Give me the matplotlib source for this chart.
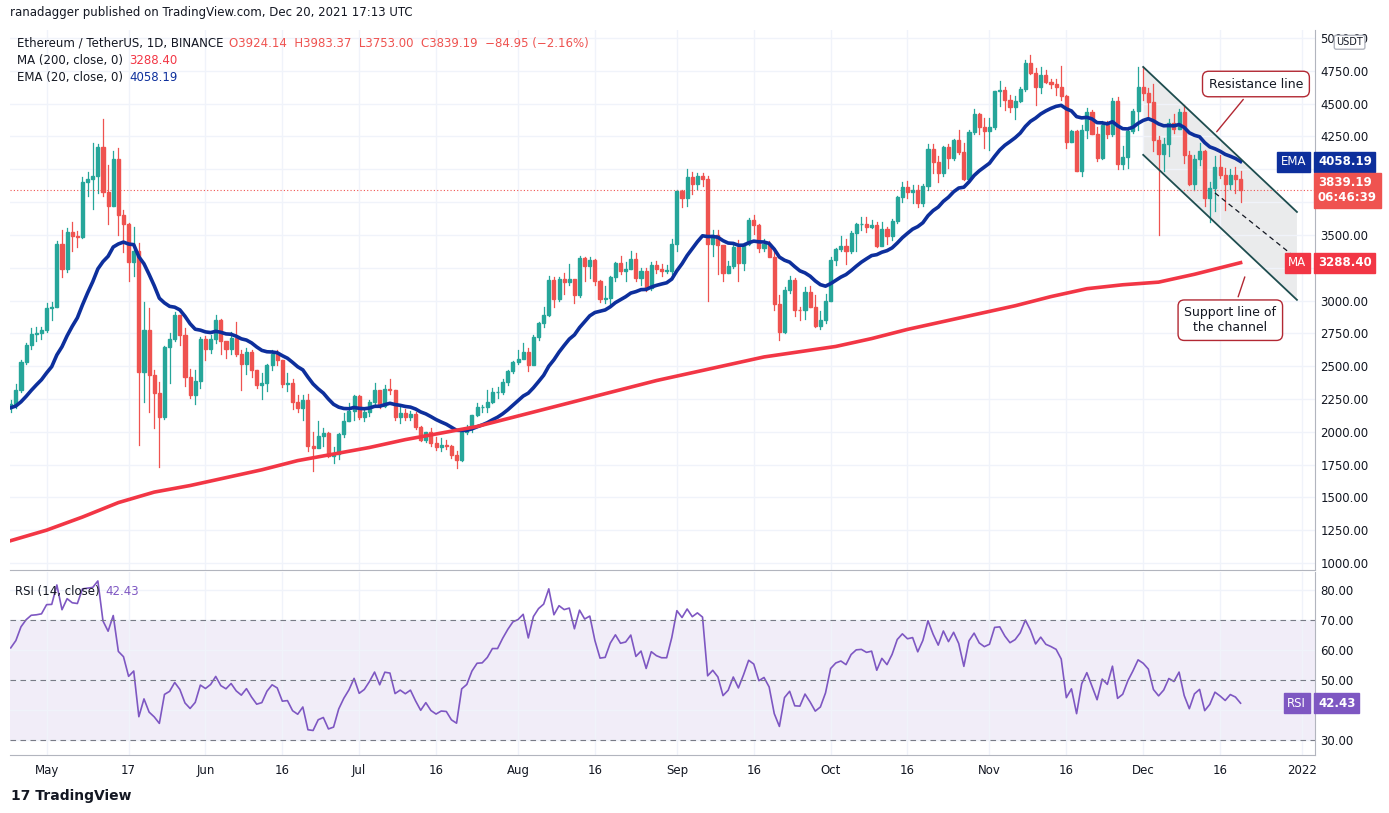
import matplotlib.pyplot as plt
import matplotlib.dates as mdates
import numpy as np
import pandas as pd
from matplotlib.patches import Rectangle, Polygon

# ---- daily closes / highs / lows, Apr 24 -> Dec 20 2021 ----
close = {
 'apr': [2214,2316,2534,2662,2747,2756,2773],
 'may': [2945,2950,3431,3240,3524,3490,3484,3902,3928,3950,4168,3825,3723,4080,3652,3580,3290,3380,2457,2773,2430,2296,2110,2643,2706,2888,2736,2419,2280,2385,2706],
 'jun': [2634,2707,2855,2688,2630,2715,2590,2517,2608,2472,2353,2372,2510,2590,2549,2367,2373,2230,2178,2245,1888,1875,1970,1990,1815,1830,1982,2080,2160,2275],
 'jul': [2113,2150,2226,2321,2198,2324,2316,2115,2146,2110,2139,2037,1940,1995,1916,1880,1899,1895,1819,1788,1995,2026,2124,2186,2189,2230,2300,2300,2382,2461,2534],
 'aug': [2557,2610,2507,2724,2827,2890,3157,3013,3163,3140,3164,3045,3322,3265,3310,3147,3012,3020,3180,3285,3225,3240,3320,3173,3228,3098,3270,3240,3225,3225,3430],
 'sep': [3833,3785,3940,3887,3952,3925,3430,3496,3426,3210,3265,3408,3285,3430,3612,3574,3397,3433,3330,2977,2760,3077,3155,2930,2925,3062,2947,2807,2850,3000],
 'oct': [3310,3390,3418,3380,3515,3580,3586,3561,3575,3417,3545,3492,3604,3788,3866,3830,3845,3745,3875,4155,4055,3970,4170,4085,4220,4130,3925,4285,4418,4325,4290],
 'nov': [4325,4595,4605,4530,4475,4517,4612,4810,4735,4628,4720,4665,4648,4628,4559,4210,4290,3990,4300,4437,4270,4085,4340,4270,4520,4040,4097,4290,4445,4630],
 'dec': [4585,4510,4220,4120,4195,4350,4310,4435,4110,3890,4080,4140,3780,3860,4020,3960,3890,3960,3925,3839.19],
}
high = {
 'apr': [2240,2362,2547,2680,2790,2800,2798],
 'may': [2980,2990,3450,3540,3550,3600,3530,3940,3980,4200,4190,4380,4030,4140,4160,3690,3590,3560,3440,2990,2940,2470,2380,2650,2750,2910,2890,2790,2480,2470,2720],
 'jun': [2730,2740,2890,2860,2680,2760,2840,2620,2640,2620,2470,2450,2520,2620,2620,2550,2450,2400,2280,2280,2290,2000,2080,2030,2000,1880,1990,2140,2220,2280],
 'jul': [2280,2170,2240,2370,2310,2360,2405,2320,2190,2170,2160,2150,2040,2000,2030,1960,1950,1940,1900,1850,2010,2050,2130,2220,2200,2320,2330,2340,2400,2470,2540],
 'aug': [2620,2680,2640,2740,2840,2950,3190,3180,3180,3210,3280,3140,3340,3330,3330,3320,3160,3110,3190,3290,3340,3290,3380,3360,3250,3250,3290,3300,3280,3270,3470],
 'sep': [3840,3840,4000,3980,3975,3970,3950,3540,3540,3400,3300,3440,3460,3440,3630,3650,3580,3470,3450,3380,3040,3100,3190,3170,2950,3100,3110,3040,2920,3050],
 'oct': [3330,3400,3490,3470,3530,3590,3640,3640,3610,3600,3600,3560,3620,3800,3900,3910,3880,3880,3890,4190,4190,4100,4180,4190,4230,4300,4200,4300,4460,4430,4390],
 'nov': [4390,4600,4670,4630,4570,4560,4630,4830,4870,4770,4780,4760,4690,4690,4790,4570,4300,4300,4340,4470,4450,4320,4370,4370,4540,4550,4180,4320,4460,4780],
 'dec': [4780,4620,4650,4250,4240,4380,4420,4460,4490,4140,4110,4200,4150,3900,4100,4110,4010,4000,4020,3983.37],
}
low = {
 'apr': [2150,2180,2306,2514,2630,2690,2710],
 'may': [2760,2850,2950,3180,3220,3380,3410,3480,3800,3700,3820,3800,3580,3720,3500,3370,3150,3190,1900,2230,2150,2030,1730,2100,2370,2690,2660,2350,2260,2210,2330],
 'jun': [2550,2600,2680,2590,2560,2590,2580,2320,2440,2420,2330,2250,2310,2470,2510,2340,2310,2170,2150,2090,1850,1700,1880,1890,1810,1760,1790,1960,2080,2090],
 'jul': [2100,2080,2120,2210,2180,2190,2290,2090,2070,2090,2090,2020,1930,1920,1890,1860,1850,1870,1800,1720,1780,1980,2000,2120,2150,2150,2220,2260,2290,2360,2450],
 'aug': [2520,2560,2460,2520,2700,2800,2880,2950,3000,3050,3120,2980,3030,3150,3170,3120,2990,2980,2970,3150,3200,3150,3240,3150,3120,3070,3080,3210,3190,3210,3200],
 'sep': [3380,3710,3720,3810,3850,3870,3000,3340,3200,3150,3210,3250,3150,3230,3420,3510,3370,3380,3350,2930,2700,2750,3060,2880,2850,2860,2950,2800,2780,2830],
 'oct': [3000,3270,3380,3280,3360,3380,3540,3520,3550,3410,3420,3430,3460,3590,3750,3780,3740,3710,3720,3840,3970,3900,3950,4010,4070,4120,3920,3920,4270,4270,4160],
 'nov': [4150,4310,4480,4450,4440,4380,4510,4600,4730,4490,4580,4660,4620,4570,4530,4160,4210,3990,3950,4240,4270,4060,4080,4240,4250,4000,4000,4010,4280,4300],
 'dec': [4530,4400,4140,3500,3990,4100,4280,4310,4050,3880,3840,4030,3720,3600,3680,3930,3690,3850,3820,3753],
}
months = ['apr','may','jun','jul','aug','sep','oct','nov','dec']
c = np.concatenate([close[m] for m in months]).astype(float)
h = np.concatenate([high[m] for m in months]).astype(float)
l = np.concatenate([low[m] for m in months]).astype(float)
o = np.concatenate([[2180], c[:-1]])
dates = pd.date_range('2021-04-24', periods=len(c))
x = mdates.date2num(dates)

# 200-day MA (weekly)
ma_dates = pd.to_datetime(['2021-04-24','2021-05-01','2021-05-08','2021-05-15','2021-05-22','2021-05-29',
    '2021-06-05','2021-06-12','2021-06-19','2021-06-26','2021-07-03','2021-07-10','2021-07-17','2021-07-24',
    '2021-07-31','2021-08-07','2021-08-14','2021-08-21','2021-08-28','2021-09-04','2021-09-11','2021-09-18',
    '2021-09-25','2021-10-02','2021-10-09','2021-10-16','2021-10-23','2021-10-30','2021-11-06','2021-11-13',
    '2021-11-20','2021-11-27','2021-12-04','2021-12-11','2021-12-20'])
ma200 = [1170,1250,1350,1460,1540,1590,1650,1710,1780,1830,1880,1940,1990,2040,2110,2180,2250,2320,
         2390,2450,2510,2570,2610,2650,2710,2780,2840,2900,2960,3030,3090,3120,3140,3200,3288.40]

# EMA 20 (seeded near the chart's starting value) and Wilder RSI 14
ema_seed = 2180
ema = pd.Series(np.concatenate([[ema_seed], c])).ewm(span=20, adjust=False).mean().values[1:]
ag, al = 75.0, 50.0   # starting average gain / loss so the RSI opens near 60
rsi = []
prev = 2180.0
for ci in c:
    d = ci - prev
    ag = (ag * 13 + max(d, 0)) / 14
    al = (al * 13 + max(-d, 0)) / 14
    rsi.append(100 - 100 / (1 + ag / al))
    prev = ci
rsi = np.array(rsi)

UP, DN = '#26a69a', '#ef5350'
fig = plt.figure(figsize=(13.89, 8.13), dpi=100)
ax = fig.add_axes([0.007, 0.299, 0.94, 0.664])
ax2 = fig.add_axes([0.007, 0.071, 0.94, 0.225], sharex=ax)

for a in (ax, ax2):
    a.grid(True, color='#f0f3fa', lw=1)
    a.yaxis.tick_right()
    for s in a.spines.values():
        s.set_color('#b2b5be')
    a.spines['top'].set_visible(False)
    a.spines['left'].set_visible(False)
    a.tick_params(length=0, labelsize=8.5, colors='#131722')

w = 0.6
for xi, oi, hi, li, ci in zip(x, o, h, l, c):
    col = UP if ci >= oi else DN
    ax.plot([xi, xi], [li, hi], color=col, lw=0.9, zorder=2)
    ax.add_patch(Rectangle((xi - w/2, min(oi, ci)), w, max(abs(ci - oi), 4), color=col, zorder=3))

ax.plot(x, ema, color='#0d2f9c', lw=2.6, zorder=4)
ax.plot(mdates.date2num(ma_dates), ma200, color='#f23645', lw=2.6, zorder=4)
ax.axhline(c[-1], color=DN, lw=0.8, ls=(0, (1, 2)))

# descending channel
x0 = mdates.date2num(pd.Timestamp('2021-12-01'))
x1 = mdates.date2num(pd.Timestamp('2021-12-31'))
ax.add_patch(Polygon([[x0, 4780], [x1, 3675], [x1, 3005], [x0, 4110]], color='#787b86', alpha=0.15, lw=0, zorder=1))
ax.plot([x0, x1], [4780, 3675], color='#1e4d4f', lw=1.3, zorder=5)
ax.plot([x0, x1], [4110, 3005], color='#1e4d4f', lw=1.3, zorder=5)
ax.plot([x0 + 14, x1 - 1], [3820, 3350], color='#131722', lw=0.9, ls=(0, (4, 3)), zorder=5)

bb = dict(boxstyle='round,pad=0.5', fc='white', ec='#b22833', lw=1)
ax.annotate('Resistance line', xy=(x0 + 14, 4270), xytext=(x0 + 22, 4650), fontsize=9,
            color='#131722', ha='center', va='center', bbox=bb,
            arrowprops=dict(arrowstyle='-', color='#b22833', lw=1))
ax.annotate('Support line of\nthe channel', xy=(x0 + 20, 3200), xytext=(x0 + 17, 2850), fontsize=9,
            color='#131722', ha='center', va='center', bbox=bb,
            arrowprops=dict(arrowstyle='-', color='#b22833', lw=1))

yt = np.arange(1000, 5001, 250)
ax.set_ylim(947, 5061)
ax.set_yticks(yt)
# labels hidden behind the right-axis tags
ax.set_yticklabels(['' if v in (3250, 3750, 4000) else f'{v:.2f}' for v in yt])
ax.set_xlim(x[0] - 0.2, x[0] + 254.6)

# right-axis tags
def tag(a, y, txt, fc, label=None):
    a.text(1.002, y, txt, transform=a.get_yaxis_transform(), fontsize=8.5, color='white',
           va='center', ha='left', fontweight='bold', zorder=10,
           bbox=dict(boxstyle='square,pad=0.3', fc=fc, ec=fc))
    if label:
        a.text(0.993, y, label, transform=a.get_yaxis_transform(), fontsize=8.5, color='white',
               va='center', ha='right', zorder=10, bbox=dict(boxstyle='square,pad=0.3', fc=fc, ec=fc))

tag(ax, 4058.19, '4058.19', '#0d2f9c', 'EMA')
tag(ax, 3839.19, '3839.19\n06:46:39', DN)
tag(ax, 3288.40, '3288.40', '#f23645', 'MA')

# RSI pane
ax2.plot(x, rsi, color='#7e57c2', lw=1.2)
ax2.axhspan(30, 70, color='#7e57c2', alpha=0.1, lw=0)
for lv in (30, 50, 70):
    ax2.axhline(lv, color='#787b86', lw=0.8, ls=(0, (5, 4)))
rt = np.arange(30, 81, 10)
ax2.set_ylim(25, 86)
ax2.set_yticks(rt)
ax2.set_yticklabels(['' if v == 40 else f'{v:.2f}' for v in rt])
tag(ax2, 42.43, '42.43', '#7e57c2', 'RSI')
ax2.text(0.004, 0.93, 'RSI (14, close)', transform=ax2.transAxes, fontsize=8.5, color='#131722', va='top')
ax2.text(0.073, 0.93, '42.43', transform=ax2.transAxes, fontsize=8.5, color='#7e57c2', va='top')

ticks = ['2021-05-01','2021-05-17','2021-06-01','2021-06-16','2021-07-01','2021-07-16','2021-08-01',
         '2021-08-16','2021-09-01','2021-09-16','2021-10-01','2021-10-16','2021-11-01','2021-11-16',
         '2021-12-01','2021-12-16','2022-01-01']
tlabels = ['May','17','Jun','16','Jul','16','Aug','16','Sep','16','Oct','16','Nov','16','Dec','16','2022']
ax2.set_xticks(mdates.date2num(pd.to_datetime(ticks)))
ax2.set_xticklabels(tlabels)
plt.setp(ax.get_xticklabels(), visible=False)
ax2.tick_params(axis='x', pad=6)

# header / footer
fig.text(0.007, 0.993, 'ranadagger published on TradingView.com, Dec 20, 2021 17:13 UTC', fontsize=8.5, va='top', color='#131722')
fig.text(0.012, 0.955, 'Ethereum / TetherUS, 1D, BINANCE', fontsize=8.5, va='top', color='#131722')
fig.text(0.165, 0.955, 'O3924.14  H3983.37  L3753.00  C3839.19  −84.95 (−2.16%)', fontsize=8.5, va='top', color=DN)
fig.text(0.012, 0.934, 'MA (200, close, 0)', fontsize=8.5, va='top', color='#131722')
fig.text(0.093, 0.934, '3288.40', fontsize=8.5, va='top', color='#f23645')
fig.text(0.012, 0.913, 'EMA (20, close, 0)', fontsize=8.5, va='top', color='#131722')
fig.text(0.093, 0.913, '4058.19', fontsize=8.5, va='top', color='#0d2f9c')
fig.text(0.962, 0.948, 'USDT', fontsize=7, va='center', color='#131722',
         bbox=dict(boxstyle='round,pad=0.2', fc='white', ec='#b2b5be'))
fig.text(0.008, 0.021, '17 TradingView', fontsize=10, va='center', color='#131722', fontweight='bold')

fig.savefig('out.png', dpi=100, facecolor='white')
